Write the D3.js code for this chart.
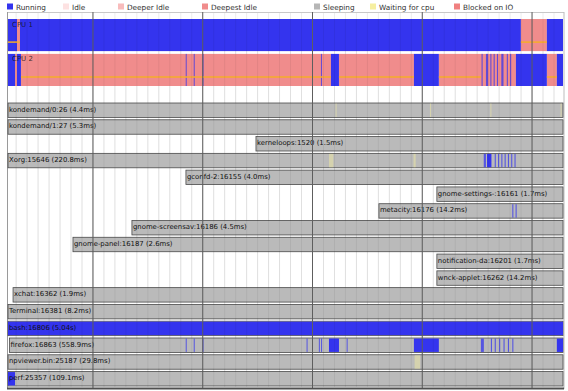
<!DOCTYPE html>
<html><head><meta charset="utf-8">
<script src="https://cdn.jsdelivr.net/npm/d3@7"></script>
<style>body{margin:0;background:#fff}svg{display:block;font-family:"DejaVu Sans",sans-serif}</style>
</head><body><svg id="c" width="568" height="391"></svg>
<script>
// ---------- data ----------
const legendLabels = ["Running","Idle","Deeper Idle","Deepest Idle","Sleeping","Waiting for cpu","Blocked on IO"];
const legendKeys   = ["running","idle","deeper","deepest","sleeping","waiting","blocked"];
const timeDomain = [0.226, 5.282];          // seconds
const cpuNames = ["CPU 1","CPU 2"];
const cpuIdle = [
  [[0.226,0.335],[4.898,5.135]],
  [[0.290,0.308],[0.344,3.168],[3.241,3.924],[4.151,4.853],[5.135,5.226]]
];
const cpuRunning = [
  [[0.226,0.308],[0.335,4.898],[5.135,5.282]],
  [[0.226,0.290],[0.308,0.344],[1.845,1.852],[1.918,1.925],[1.998,2.006],[3.077,3.085],[3.168,3.241],
   [3.924,4.151],[4.540,4.550],[4.580,4.600],[4.620,4.630],[4.650,4.660],[4.680,4.690],[4.720,4.740],
   [4.770,4.780],[4.800,4.810],[4.853,5.135],[5.226,5.282]]
];
const cpuFreqLine = [
  [[0.226,0.335],[4.898,5.135]],
  [[0.344,3.168],[3.241,3.924],[4.151,4.534],[5.135,5.226]]
];
const processLabels = [
  "kondemand/0:26 (4.4ms)","kondemand/1:27 (5.3ms)","kerneloops:1520 (1.5ms)","Xorg:15646 (220.8ms)",
  "gconfd-2:16155 (4.0ms)","gnome-settings-:16161 (1.7ms)","metacity:16176 (14.2ms)",
  "gnome-screensav:16186 (4.5ms)","gnome-panel:16187 (2.6ms)","notification-da:16201 (1.7ms)",
  "wnck-applet:16262 (14.2ms)","xchat:16362 (1.9ms)","Terminal:16381 (8.2ms)","bash:16806 (5.04s)",
  "firefox:16863 (558.9ms)","npviewer.bin:25187 (29.8ms)","perf:25357 (109.1ms)"
];
const processStarts = [0.226,0.226,2.485,0.226,1.847,4.133,3.605,1.355,0.818,4.133,4.133,0.272,0.226,0.226,0.240,0.226,0.226];
const processRunning = [
  [],[],[],
  [[4.56,4.58],[4.59,4.63],[4.66,4.67],[4.69,4.70],[4.72,4.73],[4.75,4.76],[4.78,4.79],[4.81,4.82],[4.84,4.85]],
  [],[],
  [[4.82,4.83],[4.85,4.86]],
  [],[],[],[],[],[],
  [[0.226,5.282]],
  [[1.845,1.852],[1.918,1.925],[1.998,2.006],[2.946,2.952],[3.058,3.066],[3.078,3.086],[3.150,3.241],
   [3.311,3.317],[3.924,4.151],[4.534,4.561],[4.625,4.635],[4.66,4.67],[4.70,4.71],[4.74,4.75],
   [4.78,4.79],[4.82,4.83],[5.226,5.282]],
  [],
  [[0.226,0.290]]
];
const processWaiting = [
  [[3.21,3.22],[4.07,4.08],[4.62,4.63],[5.26,5.27]],
  [],[],
  [[3.15,3.19],[3.92,3.94]],
  [],[],[],[],[],[],[],[],[],[],[],
  [[3.93,3.98]],
  []
];

// ---------- styles ----------
const colors = {running:"#3434ee", idle:"#fde2e2", deeper:"#f8bcbc", deepest:"#f08c8c",
  sleeping:"#b6b6b6", waiting:"#f6efa0", blocked:"#f08080"};
const legendX = [7,63,118,202,314,370,454];

const svg = d3.select("#c");
const x = d3.scaleLinear().domain(timeDomain).range([8,563]);
const cpuY = d3.scaleBand().domain(cpuNames).range([19,86]).paddingInner(0.08);
const procY = d3.scaleBand().domain(processLabels).range([103,386]).paddingInner(0.14).paddingOuter(0);

// legend
const lg = svg.append("g");
legendKeys.forEach((k,i)=>{
  lg.append("rect").attr("x",legendX[i]).attr("y",3.5).attr("width",6).attr("height",6).attr("fill",colors[k]);
  lg.append("text").attr("x",legendX[i]+9).attr("y",9.8).attr("font-size",7.3).attr("fill","#333").text(legendLabels[i]);
});

// frame
svg.append("line").attr("x1",7).attr("x2",564).attr("y1",12.5).attr("y2",12.5).attr("stroke","#c8c8c8");
svg.append("line").attr("x1",7.5).attr("x2",7.5).attr("y1",12).attr("y2",389).attr("stroke","#9a9a9a");
svg.append("line").attr("x1",564).attr("x2",564).attr("y1",12).attr("y2",389).attr("stroke","#bdbdbd");

// minor grid (under)
const minor = x.ticks(50);
svg.append("g").selectAll("line").data(minor).join("line")
  .attr("x1",d=>x(d)).attr("x2",d=>x(d)).attr("y1",13).attr("y2",387)
  .attr("stroke","#ededed").attr("stroke-width",1);

// CPU rows
cpuNames.forEach((c,i)=>{
  const g = svg.append("g");
  const y0 = cpuY(c), h = cpuY.bandwidth();
  g.append("rect").attr("x",x(timeDomain[0])).attr("y",y0).attr("width",x(timeDomain[1])-x(timeDomain[0])).attr("height",h)
    .attr("fill","#f4f4f4");
  g.selectAll("rect.idle").data(cpuIdle[i]).join("rect").attr("class","idle")
    .attr("x",d=>x(d[0])).attr("width",d=>x(d[1])-x(d[0])).attr("y",y0).attr("height",h).attr("fill",colors.deepest);
  g.selectAll("rect.run").data(cpuRunning[i]).join("rect").attr("class","run")
    .attr("x",d=>x(d[0])).attr("width",d=>Math.max(1,x(d[1])-x(d[0]))).attr("y",y0).attr("height",h)
    .attr("fill",colors.running).attr("fill-opacity",d=>x(d[1])-x(d[0])<3?0.75:1);
  g.selectAll("line.f").data(cpuFreqLine[i]).join("line").attr("class","f")
    .attr("x1",d=>x(d[0])).attr("x2",d=>x(d[1])).attr("y1",y0+h-9).attr("y2",y0+h-9)
    .attr("stroke","#f6ad2a").attr("stroke-width",1.5);
  g.append("text").attr("x",x(timeDomain[0])+4).attr("y",y0+7.5).attr("font-size",7).attr("fill","#111").attr("fill-opacity",0.8).text(c);
});

// process rows
processLabels.forEach((p,i)=>{
  const g = svg.append("g");
  const y0 = procY(p), h = procY.bandwidth();
  const x0 = x(processStarts[i]), x1 = x(timeDomain[1]);
  g.append("rect").attr("x",x0).attr("y",y0).attr("width",x1-x0).attr("height",h)
    .attr("fill","#bababa").attr("stroke","#4a4a4a").attr("stroke-width",0.8);
  g.selectAll("rect.w").data(processWaiting[i]).join("rect").attr("class","w")
    .attr("x",d=>x(d[0])).attr("width",d=>Math.max(1,x(d[1])-x(d[0]))).attr("y",y0+0.5).attr("height",h-1)
    .attr("fill",colors.waiting).attr("fill-opacity",0.45);
  g.selectAll("rect.r").data(processRunning[i]).join("rect").attr("class","r")
    .attr("x",d=>x(d[0])).attr("width",d=>Math.max(1,x(d[1])-x(d[0]))).attr("y",y0+0.5).attr("height",h-1)
    .attr("fill",colors.running).attr("fill-opacity",d=>x(d[1])-x(d[0])<3?0.75:1);
  g.append("text").attr("x",x0+1).attr("y",y0+8.7).attr("font-size",6.9).attr("fill","#111").text(p);
});

// minor grid overlay (texture) and major grid on top
svg.append("g").selectAll("line").data(minor).join("line")
  .attr("x1",d=>x(d)).attr("x2",d=>x(d)).attr("y1",19).attr("y2",386)
  .attr("stroke","#000").attr("stroke-opacity",0.06).attr("stroke-width",1);
svg.append("g").selectAll("line").data(x.ticks(5)).join("line")
  .attr("x1",d=>x(d)).attr("x2",d=>x(d)).attr("y1",12).attr("y2",388)
  .attr("stroke","#5e5e5e").attr("stroke-width",1);

// bottom border
svg.append("rect").attr("x",7).attr("y",387.5).attr("width",557).attr("height",2).attr("fill","#505050");
</script></body></html>
